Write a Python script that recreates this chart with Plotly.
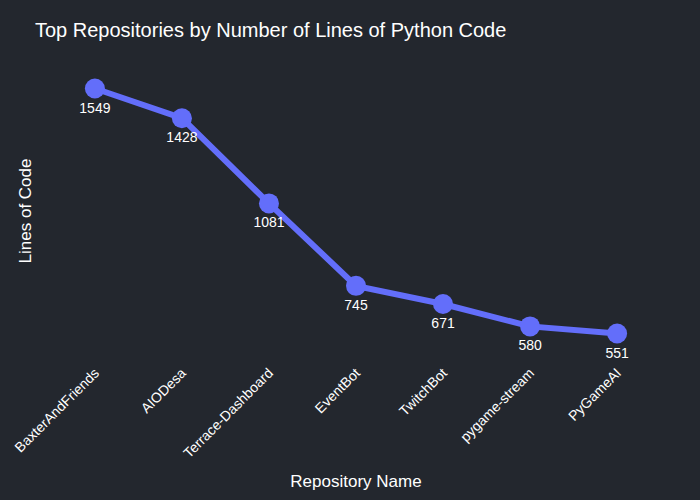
import plotly.graph_objects as go

repos = ["BaxterAndFriends", "AIODesa", "Terrace-Dashboard", "EventBot", "TwitchBot", "pygame-stream", "PyGameAI"]
lines = [1549, 1428, 1081, 745, 671, 580, 551]

fig = go.Figure(go.Scatter(
    x=repos, y=lines, mode="lines+markers+text",
    text=[str(v) for v in lines], textposition="bottom center",
    textfont=dict(color="white", size=14),
    line=dict(color="#636efa", width=6),
    marker=dict(color="#636efa", size=20),
))

fig.update_layout(
    width=700, height=500,
    paper_bgcolor="#23272e", plot_bgcolor="#23272e",
    font=dict(family="Liberation Sans, Arial", color="white", size=14),
    title=dict(text="Top Repositories by Number of Lines of Python Code", x=0.05, y=0.955, font=dict(size=20)),
    margin=dict(l=50, r=40, t=61, b=139),
    xaxis=dict(title=dict(text="Repository Name", font=dict(size=17)), tickangle=-45, showgrid=False, zeroline=False, showline=False),
    yaxis=dict(title=dict(text="Lines of Code", font=dict(size=17)), showticklabels=False, showgrid=False, zeroline=False, showline=False),
    showlegend=False,
)

fig.write_html("out.html")
